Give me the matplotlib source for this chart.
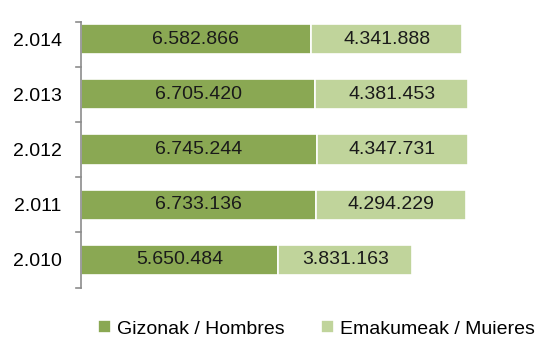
import matplotlib
matplotlib.use("Agg")
from matplotlib import pyplot as plt
import numpy as np

years = ["2.010", "2.011", "2.012", "2.013", "2.014"]
men = [5650484, 6733136, 6745244, 6705420, 6582866]
women = [3831163, 4294229, 4347731, 4381453, 4341888]
men_lbl = ["5.650.484", "6.733.136", "6.745.244", "6.705.420", "6.582.866"]
women_lbl = ["3.831.163", "4.294.229", "4.347.731", "4.381.453", "4.341.888"]

plt.rcParams["font.family"] = ["Liberation Sans", "DejaVu Sans"]
dark, light = "#8aa853", "#c0d49b"
fs = 14

W, H = 539, 338
fig = plt.figure(figsize=(W / 100, H / 100), dpi=100)
# axes: left edge x=81, rows from y=11.5 to y=287.5
ax = fig.add_axes([81 / W, 1 - 287.5 / H, 419 / W, 276 / H])

y = np.arange(len(years))
b1 = ax.barh(y, men, height=0.55, color=dark, edgecolor="white", linewidth=1.2, label="Gizonak / Hombres")
b2 = ax.barh(y, women, left=men, height=0.55, color=light, edgecolor="white", linewidth=1.2, label="Emakumeak / Muieres")
for i in range(len(years)):
    ax.text(men[i] / 2, y[i], men_lbl[i], ha="center", va="center", fontsize=fs, color="#1a1a1a")
    ax.text(men[i] + women[i] / 2, y[i], women_lbl[i], ha="center", va="center", fontsize=fs, color="#1a1a1a")

ax.set_xlim(0, 12e6)
ax.set_ylim(-0.5, 4.5)
ax.set_xticks([])
ax.set_yticks(y)
ax.set_yticklabels(years, fontsize=fs)
ax.tick_params(axis="y", length=0, pad=14)
for s in ["top", "right", "bottom"]:
    ax.spines[s].set_visible(False)
top = 4.5 - 10.2 / 55.2
ax.spines["left"].set_bounds(-0.5, top)
ax.spines["left"].set_color("#8c8c8c")
ax.spines["left"].set_linewidth(1.2)
# category boundary ticks
for t in list(np.arange(-0.5, 4, 1.0)) + [top]:
    ax.plot([-0.012, 0], [t, t], transform=ax.get_yaxis_transform(), color="#8c8c8c", lw=1.2, clip_on=False)

fig.legend(handles=[b1, b2], loc="center", bbox_to_anchor=(0.587, 1 - 329 / H), ncol=2, frameon=False,
           fontsize=fs, handlelength=0.65, handleheight=0.65, handletextpad=0.3, columnspacing=1.9)
fig.savefig("out.png", dpi=100)
